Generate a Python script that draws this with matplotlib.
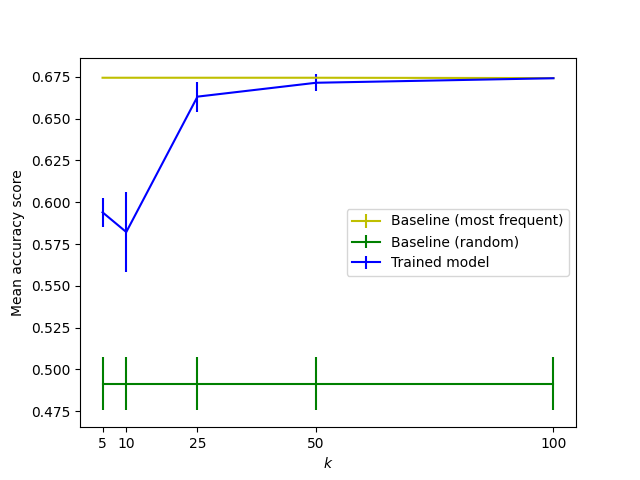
import numpy as np
import matplotlib.pyplot as plt

ks = [5, 10, 25, 50, 100]
most_freq = [0.6745, 0.6745, 0.6745, 0.6745, 0.6743]
most_freq_err = [0.0, 0.0, 0.0, 0.0, 0.0]
rand = [0.4915, 0.4915, 0.4915, 0.4915, 0.4915]
rand_err = [0.016, 0.016, 0.016, 0.016, 0.016]
trained = [0.5940, 0.5822, 0.6632, 0.6715, 0.6742]
trained_err = [0.0085, 0.0237, 0.0090, 0.0050, 0.0005]

fig, ax = plt.subplots(figsize=(6.4, 4.8), dpi=100)
ax.errorbar(ks, most_freq, yerr=most_freq_err, color='y', label='Baseline (most frequent)')
ax.errorbar(ks, rand, yerr=rand_err, color='g', label='Baseline (random)')
ax.errorbar(ks, trained, yerr=trained_err, color='b', label='Trained model')
ax.set_xticks(ks)
ax.set_xlabel('$k$')
ax.set_ylabel('Mean accuracy score')
ax.legend(loc='center right')
fig.savefig('out.png')
